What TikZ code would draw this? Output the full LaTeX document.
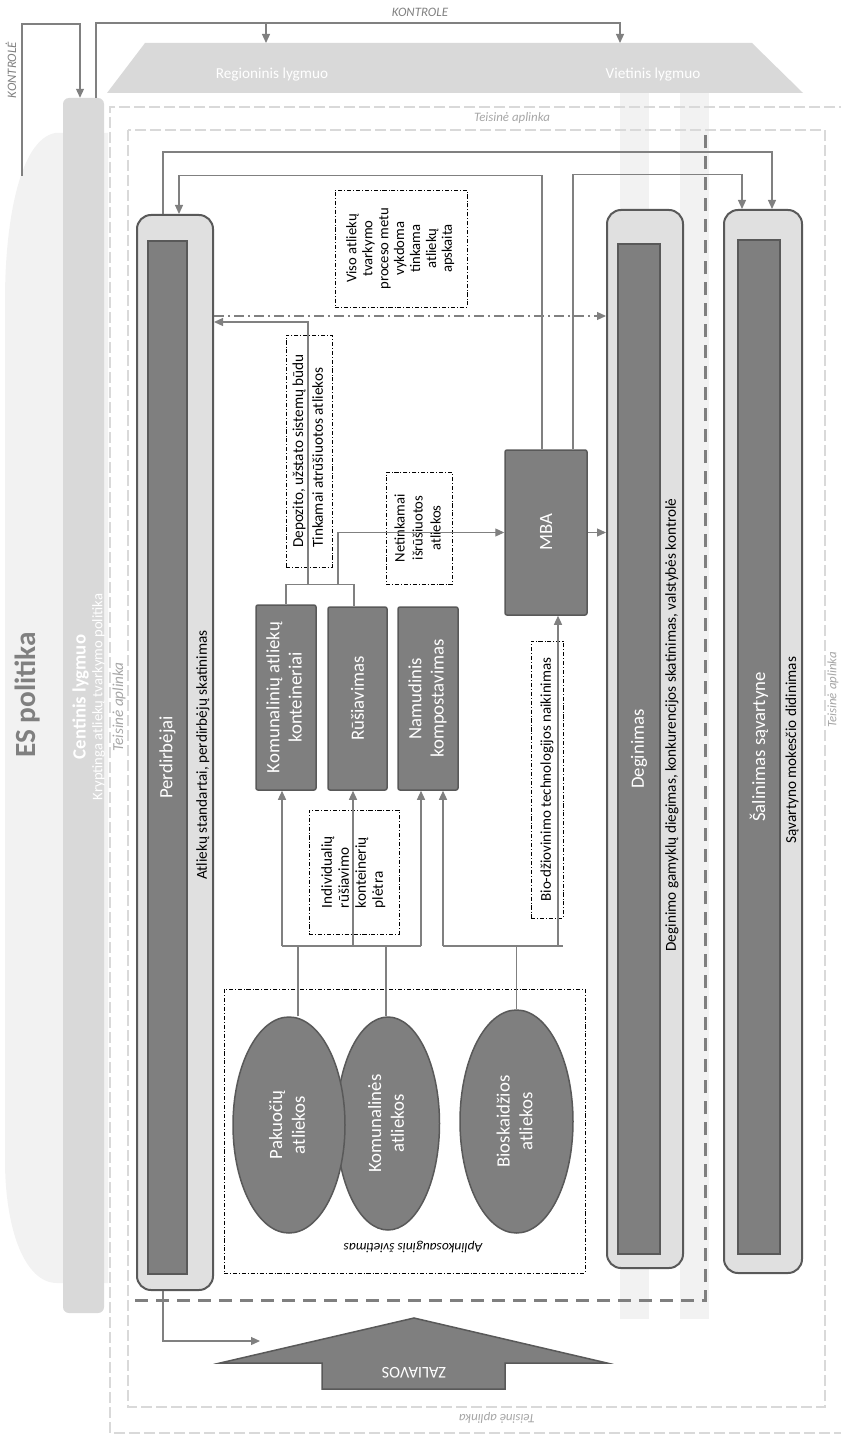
\documentclass[tikz,border=0pt]{standalone}
\usepackage{fontspec}
\setmainfont{Carlito}
\usepackage{tikz}
\usetikzlibrary{shapes.geometric, arrows.meta, positioning}

\newlength\pxu
\setlength\pxu{0.03cm}
\definecolor{esgray}{HTML}{F2F2F2}
\definecolor{lvlgray}{HTML}{D9D9D9}
\definecolor{boxgray}{HTML}{E0E0E0}
\definecolor{fillgray}{HTML}{7F7F7F}
\definecolor{edgegray}{HTML}{595959}
\definecolor{linegray}{HTML}{808080}

\tikzset{
  colbox/.style={draw=edgegray, fill=boxgray, line width=2\pxu, rounded corners=14\pxu, inner sep=0pt},
  darkbar/.style={draw=edgegray, fill=fillgray, line width=1.5\pxu, inner sep=0pt, text=white, font=\fontsize{16}{19}\selectfont},
  procbox/.style={darkbar, rounded corners=2\pxu},
  waste/.style={ellipse, draw=edgegray, fill=fillgray, line width=1.5\pxu, inner sep=0pt, text=white, font=\fontsize{16}{19.5}\selectfont},
  notebox/.style={draw=black, line width=0.5pt, dash pattern=on 3.5pt off 1.7pt on 0.7pt off 1.7pt, inner sep=0pt, font=\fontsize{12.5}{13.6}\selectfont},
  link/.style={draw=linegray, line width=1.2\pxu},
  flow/.style={link, -{Triangle[length=0.27cm, width=0.24cm]}},
  dashflow/.style={flow, dash pattern=on 10\pxu off 4\pxu on 2\pxu off 4\pxu},
  legal/.style={draw=lvlgray, line width=2\pxu, dash pattern=on 11\pxu off 4\pxu},
  legaltext/.style={text=black!35, font=\fontsize{11}{12}\selectfont\itshape},
  ctrltext/.style={text=linegray, font=\fontsize{11}{12}\selectfont\itshape},
  stdtext/.style={text=black, font=\fontsize{13}{15}\selectfont},
}

\begin{document}
\begin{tikzpicture}[x=0.03cm, y=-0.03cm]
    \useasboundingbox (0,0) rectangle (840,1435);
    % ES politika and central level
    \fill[esgray] (108,133) -- (55,133) .. controls (20,140) and (5,220) .. (5,300) -- (5,1160)
        .. controls (5,1230) and (25,1283) .. (57,1283) -- (108,1283) -- cycle;
    \node[text=linegray, font=\fontsize{25}{30}\selectfont\bfseries] (es) at (28,695) {\rotatebox{90}{ES politika}};
    \node[fill=lvlgray, rounded corners=6\pxu, minimum width=41\pxu, minimum height=1215\pxu, inner sep=0pt] (cent) at (83.5,705.5) {};
    \node[text=white, font=\fontsize{16}{19}\selectfont\bfseries] (centlbl) at (80.5,697) {\rotatebox{90}{Centinis lygmuo}};
    \node[text=white, font=\fontsize{12.5}{14}\selectfont] (centpol) at (98.5,697) {\rotatebox{90}{Kryptinga atliekų tvarkymo politika}};

    % Regional and local level
    \fill[lvlgray] (107,93) -- (145,43) -- (752,43) -- (803,93) -- cycle;
    \node[text=white, font=\fontsize{13}{15}\selectfont] (reg) at (272,75) {Regioninis lygmuo};
    \node[text=white, font=\fontsize{13}{15}\selectfont] (vie) at (653,75) {Vietinis lygmuo};
    \coordinate (tregion) at (266,43);
    \coordinate (tlocal) at (620,43);
    \fill[esgray] (620,93) rectangle (649,1319);
    \fill[esgray] (680,93) rectangle (709,1319);

    % Legal environment
    \draw[legal] (880,107) -- (110,107) -- (110,1433) -- (880,1433);
    \draw[legal] (128,130) rectangle (825,1407);
    \node[legaltext] (legtop) at (512,118) {Teisinė aplinka};
    \node[legaltext, font=\fontsize{13}{14}\selectfont\itshape] (legleft) at (119,707) {\rotatebox{90}{Teisinė aplinka}};
    \node[legaltext] (legright) at (833,690) {\rotatebox{90}{Teisinė aplinka}};
    \node[legaltext] (legbot) at (497,1418) {\rotatebox{180}{Teisinė aplinka}};
    \draw[draw=fillgray, line width=3\pxu, dash pattern=on 13\pxu off 8\pxu] (135,1300) -- (705,1300) -- (705,130);

    % Columns
    \node[colbox, minimum width=76\pxu, minimum height=1075\pxu] (perd) at (175,752.5) {};
    \node[darkbar, minimum width=39\pxu, minimum height=1033\pxu] (perdin) at (167.5,757.5) {\rotatebox{90}{Perdirbėjai}};
    \node[stdtext] (perdstd) at (203,755) {\rotatebox{90}{Atliekų standartai, perdirbėjų skatinimas}};
    \node[colbox, minimum width=76\pxu, minimum height=1058\pxu] (deg) at (645,739) {};
    \node[darkbar, minimum width=42\pxu, minimum height=1010\pxu] (degin) at (639,749) {\rotatebox{90}{Deginimas}};
    \node[stdtext] (degstd) at (672,725) {\rotatebox{90}{Deginimo gamyklų diegimas, konkurencijos skatinimas, valstybės kontrolė}};
    \node[colbox, minimum width=78\pxu, minimum height=1063\pxu] (sal) at (763,741.5) {};
    \node[darkbar, minimum width=42\pxu, minimum height=1014\pxu] (salin) at (759,747) {\rotatebox{90}{Šalinimas sąvartyne}};
    \node[stdtext] (salstd) at (792,750) {\rotatebox{90}{Sąvartyno mokesčio didinimas}};

    % Notes
    \node[notebox, minimum width=132\pxu, minimum height=117\pxu] (viso) at (401,248.5)
        {\rotatebox{90}{\begin{tabular}{@{}c@{}}Viso atliekų\\tvarkymo\\proceso metu\\vykdoma\\tinkama\\atliekų\\apskaita\end{tabular}}};
    \node[notebox, font=\fontsize{13}{17}\selectfont, minimum width=46\pxu, minimum height=232\pxu] (depo) at (309,451)
        {\rotatebox{90}{\begin{tabular}{@{}l@{}}Depozito, užstato sistemų būdu\\Tinkamai atrūšiuotos atliekos\end{tabular}}};
    \node[notebox, font=\fontsize{12.5}{15.3}\selectfont, minimum width=66\pxu, minimum height=112\pxu] (netk) at (419,528)
        {\rotatebox{90}{\begin{tabular}{@{}c@{}}Netinkamai\\išrūšiuotos\\atliekos\end{tabular}}};
    \node[notebox, font=\fontsize{12.8}{14}\selectfont, minimum width=32\pxu, minimum height=277\pxu] (biodz) at (547,779.5)
        {\rotatebox{90}{Bio-džiovinimo technologijos naikinimas}};
    \node[notebox, font=\fontsize{13}{14.5}\selectfont, minimum width=90\pxu, minimum height=124\pxu] (indiv) at (354,872)
        {\rotatebox{90}{\begin{tabular}{@{}l@{}}Individualių\\rūšiavimo\\konteinerių\\plėtra\end{tabular}}};
    \node[notebox, minimum width=361\pxu, minimum height=284\pxu] (aplink) at (404.5,1131) {};
    \node[font=\fontsize{11.5}{13}\selectfont\itshape] (aplinklbl) at (413,1247) {\rotatebox{180}{Aplinkosauginis švietimas}};

    % Collection and treatment
    \node[procbox, minimum width=60\pxu, minimum height=185\pxu] (kom) at (286,697.5)
        {\rotatebox{90}{\begin{tabular}{@{}c@{}}Komunalinių atliekų\\konteineriai\end{tabular}}};
    \node[procbox, minimum width=59\pxu, minimum height=183\pxu] (rus) at (357.5,698.5) {\rotatebox{90}{Rūšiavimas}};
    \node[procbox, minimum width=60\pxu, minimum height=183\pxu] (nam) at (428,698.5)
        {\rotatebox{90}{\begin{tabular}{@{}c@{}}Namudinis\\kompostavimas\end{tabular}}};
    \node[procbox, minimum width=82\pxu, minimum height=165\pxu] (mba) at (546,532.5) {\rotatebox{90}{MBA}};

    % Waste streams
    \node[waste, minimum width=103\pxu, minimum height=213\pxu] (kmn) at (388,1123.5)
        {\rotatebox{90}{\begin{tabular}{@{}c@{}}Komunalinės\\atliekos\end{tabular}}};
    \node[waste, minimum width=112\pxu, minimum height=216\pxu] (pak) at (289,1125)
        {\rotatebox{90}{\begin{tabular}{@{}c@{}}Pakuočių\\atliekos\end{tabular}}};
    \node[waste, minimum width=113\pxu, minimum height=223\pxu] (bio) at (516.5,1121.5)
        {\rotatebox{90}{\begin{tabular}{@{}c@{}}Bioskaidžios\\atliekos\end{tabular}}};

    % Raw materials
    \filldraw[fill=fillgray, draw=edgegray, line width=1.5\pxu] (220,1363) -- (414,1318) -- (607,1363) -- (505,1363)
        -- (505,1389) -- (322,1389) -- (322,1363) -- cycle;
    \node[text=white, font=\fontsize{14}{16}\selectfont] (zal) at (414,1373) {\rotatebox{180}{ZALIAVOS}};
    \coordinate (zalin) at (260,1341);

    % Control
    \node[ctrltext] (kontr) at (420,12) {KONTROLE};
    \node[ctrltext] (kontres) at (11,70) {\rotatebox{90}{KONTROLĖ}};
    \coordinate (ktop) at (0,23);
    \coordinate (esk) at (22,176);
    \draw[flow] ([xshift=12.5\pxu]cent.north) |- (ktop -| tlocal) -- (tlocal);
    \draw[flow] (ktop -| tregion) -- (tregion);
    \draw[flow] (esk) -- ++(0,-152) -| ([xshift=-3.5\pxu]cent.north);

    % Flows at the top
    \draw[flow] ([xshift=-12\pxu]perd.north) -- ++(0,-62) -| ([xshift=9\pxu]sal.north);
    \draw[flow] ([xshift=-4\pxu]mba.north) -- ++(0,-274) -| ([xshift=4\pxu]perd.north);
    \draw[flow] ([xshift=27\pxu]mba.north) -- ++(0,-275) -| ([xshift=-21\pxu]sal.north);
    \coordinate (dds) at ([yshift=436.5\pxu]perd.east);
    \draw[dashflow] (dds) -- (dds -| deg.west);

    % Flows from the containers
    \draw[link] (kom.north) -- ++(0,-20) -| ([xshift=-3.5\pxu]rus.north);
    \coordinate (jdep) at (308,585);
    \coordinate (jnet) at (338,585);
    \draw[flow] (jdep) |- ([yshift=430.5\pxu]perd.east);
    \draw[flow] (jnet) |- (mba.west);
    \draw[flow] (mba.east) -- (mba.east -| deg.west);

    % Flows from the waste streams
    \coordinate (bus) at (0,946);
    \foreach \b/\dx in {kom/-4, rus/-4.5, nam/-7} {
        \coordinate (\b-in) at ([xshift=\dx\pxu]\b.south);
        \draw[flow] (\b-in |- bus) -- (\b-in);
    }
    \draw[link] (kom-in |- bus) -- (nam-in |- bus);
    \coordinate (pakup) at ([xshift=9\pxu]pak.north);
    \coordinate (kmnup) at ([xshift=-2\pxu]kmn.north);
    \draw[link] (pakup) -- (pakup |- bus);
    \draw[link] (kmnup) -- (kmnup |- bus);
    \coordinate (nam-bio) at ([xshift=15\pxu]nam.south);
    \coordinate (mba-bio) at ([xshift=12\pxu]mba.south);
    \draw[link] (nam-bio |- bus) -- ([xshift=5\pxu]mba-bio |- bus);
    \draw[flow] (nam-bio |- bus) -- (nam-bio);
    \draw[flow] (mba-bio |- bus) -- (mba-bio);
    \draw[link] (bio.north) -- (bio.north |- bus);

    % Recycled material
    \draw[flow] ([xshift=-12\pxu]perd.south) |- (zalin);
\end{tikzpicture}
\end{document}
